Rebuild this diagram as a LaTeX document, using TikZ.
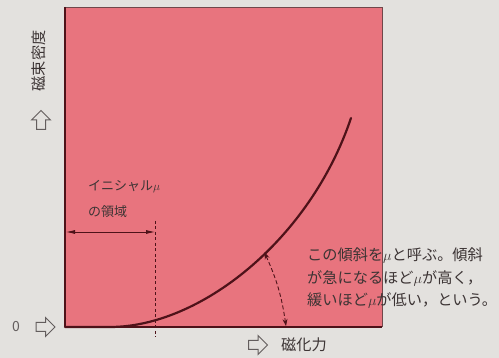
\documentclass[tikz,border=0pt]{standalone}
\usepackage{fontspec}
\setmainfont{Noto Sans CJK JP}
\newfontfamily\jpfont{Noto Sans CJK JP}
\usetikzlibrary{arrows.meta}
\definecolor{bgpaper}{HTML}{E3E1DE}
\definecolor{pinkarea}{HTML}{E8747E}
\definecolor{curvecol}{HTML}{4E1219}
\definecolor{inkcol}{HTML}{3C3434}
\tikzset{
  jptext/.style={text=inkcol, inner sep=0pt, font=\jpfont\fontsize{13}{15}\selectfont},
  bigtext/.style={text=inkcol, inner sep=0pt, font=\jpfont\fontsize{15.2}{17}\selectfont},
  hollow/.style={draw=inkcol!80, line width=1pt, fill=bgpaper, line join=miter},
  pics/rarrow/.style={code={\path[hollow] (-9.5,-4.5) -- (0,-4.5) -- (0,-9.5) -- (9.5,0) -- (0,9.5) -- (0,4.5) -- (-9.5,4.5) -- cycle;}},
  pics/uarrow/.style={code={\path[hollow] (-4.5,9.5) -- (-4.5,0) -- (-9.5,0) -- (0,-9.5) -- (9.5,0) -- (4.5,0) -- (4.5,9.5) -- cycle;}}
}
\begin{document}
\begin{tikzpicture}[x=1pt,y=-1pt]
\fill[bgpaper] (0,0) rectangle (499,358);
\useasboundingbox (0,0) rectangle (499,358);
% plot area
\fill[pinkarea] (65,7) rectangle (382,327);
\draw[inkcol!70!pinkarea, line width=0.7pt] (65,7) -- (382,7) -- (382,327);
\draw[curvecol, line width=1.3pt] (65,7) -- (65,327);
\draw[curvecol, line width=2pt] (65,327) -- (382,327);
% coordinates
\coordinate (origin) at (65,327);
\coordinate (cstart) at (110,327);
\coordinate (cend) at (351,118);
\coordinate (axispt) at (286,326);
\coordinate (dtop) at (155,221);
\coordinate (dbot) at (155,337);
\coordinate (leftend) at (66,232);
\coordinate (rightend) at (155,232);
% curve
\draw[curvecol, line width=2.2pt, line cap=round] (origin) -- (cstart) .. controls (200,327) and (310,240) .. (cend) coordinate[pos=0.56] (slopept);
% dashed vertical
\draw[curvecol, line width=0.8pt, dash pattern=on 3pt off 2.5pt] (dtop) -- (dbot);
% double arrow
\draw[curvecol, line width=0.8pt, {Latex[length=9pt,width=4pt]}-{Latex[length=9pt,width=4pt]}] (leftend) -- (rightend);
% slope arc
\draw[curvecol, line width=0.9pt, dash pattern=on 4pt off 2.5pt, {Stealth[length=7pt,width=5pt]}-{Stealth[length=7pt,width=5pt]}] ([yshift=2pt]slopept) to[bend left=8] (axispt);
% labels
\node[jptext, anchor=west] (ini) at (88,187) {イニシャル$\mu$};
\node[jptext, anchor=west] (ryo) at (88,212) {の領域};
\node[bigtext, anchor=west] (t1) at (307,256) {この傾斜を$\mu$と呼ぶ。傾斜};
\node[bigtext, anchor=west] (t2) at (307,278) {が急になるほど$\mu$が高く，};
\node[bigtext, anchor=west] (t3) at (307,300) {緩いほど$\mu$が低い，という。};
\node[bigtext] (xlab) at (304,345) {磁化力};
\node[bigtext, rotate=90] (ylab) at (39,61) {磁束密度};
\node[text=inkcol!80, inner sep=0pt, font=\fontsize{14}{16}\selectfont] (zero) at (16,327) {0};
% hollow arrows
\pic at (45.5,327) {rarrow};
\pic at (258,345) {rarrow};
\pic at (41,120) {uarrow};
\end{tikzpicture}
\end{document}
